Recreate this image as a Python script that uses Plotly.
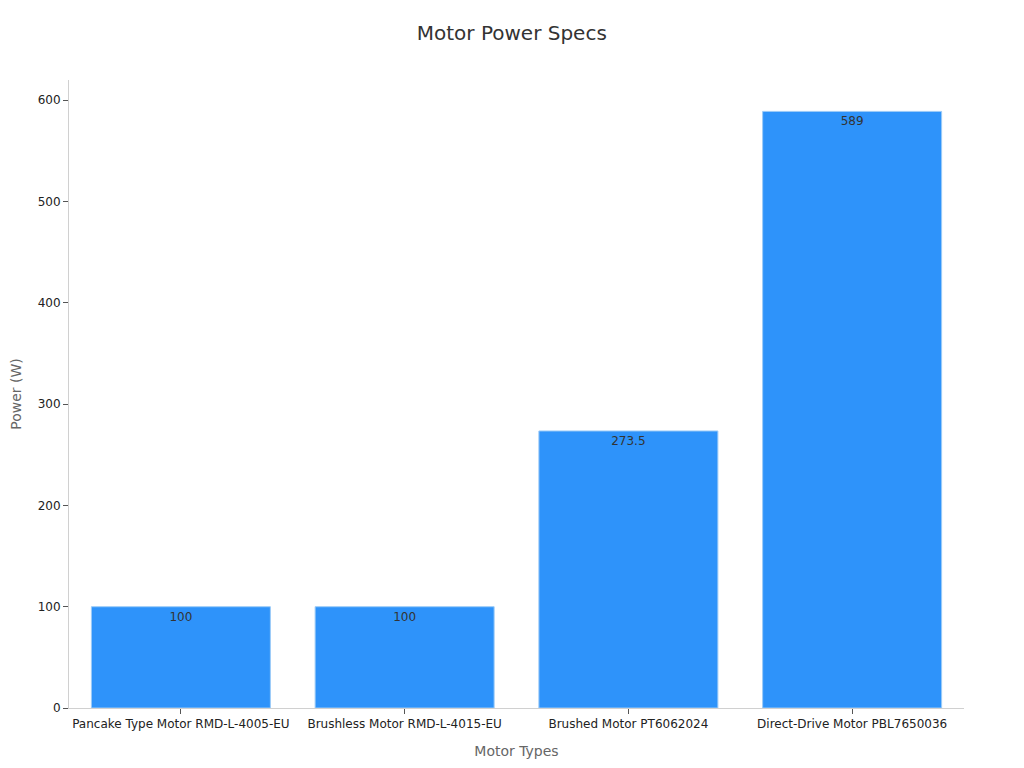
import plotly.graph_objects as go

motor_types = ['Pancake Type Motor RMD-L-4005-EU', 'Brushless Motor RMD-L-4015-EU',
               'Brushed Motor PT6062024', 'Direct-Drive Motor PBL7650036']
power_w = [100, 100, 273.5, 589]
labels = ['100', '100', '273.5', '589']

bars = go.Bar(x=motor_types, y=power_w, text=labels, textposition='inside',
              insidetextanchor='end', textangle=0,
              textfont=dict(color='#333333', size=12),
              marker=dict(color='#2E93FA', line=dict(color='#9CCBF7', width=1)),
              width=0.8)

fig = go.Figure(data=[bars])

fig.update_layout(
    width=1024, height=768,
    font=dict(family='DejaVu Sans', color='#222222', size=12),
    title=dict(text='Motor Power Specs', x=0.492, xanchor='center', y=0.976,
               font=dict(size=20, color='#333333')),
    plot_bgcolor='white', paper_bgcolor='white',
    margin=dict(l=61, r=68, t=72, b=68),
    showlegend=False,
    xaxis=dict(title=dict(text='Motor Types', font=dict(size=14, color='#666666'), standoff=15),
               showline=True, linecolor='#D0D0D0', ticks='outside', tickcolor='#555555',
               ticklen=5, showgrid=False, tickfont=dict(size=12)),
    yaxis=dict(title=dict(text='Power (W)', font=dict(size=14, color='#666666'), standoff=18),
               automargin=False,
               range=[0, 620], dtick=100, showline=True, linecolor='#D0D0D0',
               ticks='outside', tickcolor='#555555', ticklen=5, showgrid=False,
               zeroline=False, tickfont=dict(size=12)),
)

fig.write_html("out.html")
